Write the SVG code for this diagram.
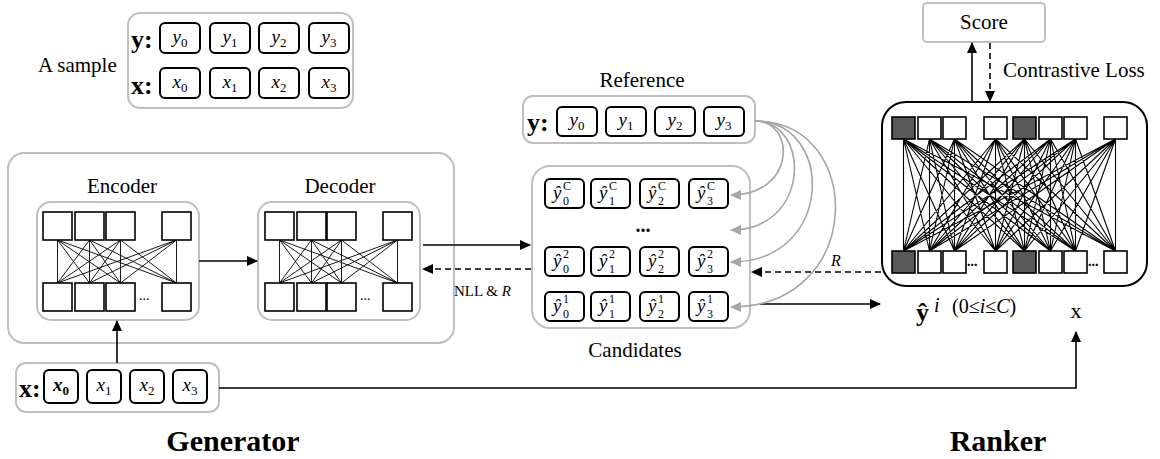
<svg xmlns="http://www.w3.org/2000/svg" width="1160" height="459" viewBox="0 0 1160 459">
<defs>
<marker id="ah" markerUnits="userSpaceOnUse" markerWidth="11" markerHeight="10" refX="10" refY="5" orient="auto"><path d="M0,0 L11,5 L0,10 z" fill="#000"/></marker>
<marker id="ahg" markerUnits="userSpaceOnUse" markerWidth="11" markerHeight="10" refX="10" refY="5" orient="auto"><path d="M0,0 L11,5 L0,10 z" fill="#a6a6a6"/></marker>
</defs>
<style>
text{font-family:"Liberation Serif","Times New Roman","DejaVu Serif",serif;fill:#000}
.lbl{font-size:21px}
.big{font-size:30px;font-weight:bold}
.bl{font-size:26px;font-weight:bold}
.m{font-size:19px;font-style:italic}
.sub{font-size:13px;font-style:normal}
.ss{font-size:12px;font-style:normal}
.grp{fill:#fff;stroke:#bfbfbf;stroke-width:2}
.tok{fill:#fff;stroke:#000;stroke-width:2}
.sq{fill:#fff;stroke:#000;stroke-width:1.6}
.dk{fill:#595959;stroke:#000;stroke-width:1.6}
.ln{stroke:#000;stroke-width:0.9;fill:none}
.lnr{stroke:#000;stroke-width:1.1;fill:none}
.ar{stroke:#000;stroke-width:1.6;fill:none}
.da{stroke:#000;stroke-width:1.6;fill:none;stroke-dasharray:6,4}
.ga{stroke:#a6a6a6;stroke-width:1.6;fill:none}
</style>

<g id="sample">
<text x="38" y="72" class="lbl">A sample</text>
<rect x="128" y="13" width="225" height="95" rx="12" class="grp"/>
<text x="131" y="48" class="bl">y:</text>
<text x="131" y="94" class="bl">x:</text>
<rect x="160" y="23" width="40" height="30" rx="5" class="tok"/>
<rect x="210" y="23" width="40" height="30" rx="5" class="tok"/>
<rect x="259" y="23" width="40" height="30" rx="5" class="tok"/>
<rect x="309" y="23" width="40" height="30" rx="5" class="tok"/>
<text x="180" y="43" class="m" text-anchor="middle">y<tspan class="sub" dy="4">0</tspan></text>
<text x="230" y="43" class="m" text-anchor="middle">y<tspan class="sub" dy="4">1</tspan></text>
<text x="279" y="43" class="m" text-anchor="middle">y<tspan class="sub" dy="4">2</tspan></text>
<text x="329" y="43" class="m" text-anchor="middle">y<tspan class="sub" dy="4">3</tspan></text>
<rect x="160" y="68" width="40" height="30" rx="5" class="tok"/>
<rect x="210" y="68" width="40" height="30" rx="5" class="tok"/>
<rect x="259" y="68" width="40" height="30" rx="5" class="tok"/>
<rect x="309" y="68" width="40" height="30" rx="5" class="tok"/>
<text x="180" y="88" class="m" text-anchor="middle">x<tspan class="sub" dy="4">0</tspan></text>
<text x="230" y="88" class="m" text-anchor="middle">x<tspan class="sub" dy="4">1</tspan></text>
<text x="279" y="88" class="m" text-anchor="middle">x<tspan class="sub" dy="4">2</tspan></text>
<text x="329" y="88" class="m" text-anchor="middle">x<tspan class="sub" dy="4">3</tspan></text>
</g>

<g id="generator">
<rect x="8" y="153" width="446" height="190" rx="16" class="grp"/>
<text x="233" y="451" class="big" text-anchor="middle">Generator</text>
</g>

<g id="encoder">
<text x="122" y="193" class="lbl" text-anchor="middle">Encoder</text>
<rect x="37" y="202" width="162" height="118" rx="14" class="grp"/>
<g class="ln">
<path d="M57.5,240 L57.5,283 M57.5,240 L89.5,283 M57.5,240 L120.5,283 M57.5,240 L176.5,283
M89.5,240 L57.5,283 M89.5,240 L89.5,283 M89.5,240 L120.5,283 M89.5,240 L176.5,283
M120.5,240 L57.5,283 M120.5,240 L89.5,283 M120.5,240 L120.5,283 M120.5,240 L176.5,283
M176.5,240 L57.5,283 M176.5,240 L89.5,283 M176.5,240 L120.5,283 M176.5,240 L176.5,283"/>
</g>
<rect x="43" y="212" width="29" height="28" class="sq"/>
<rect x="75" y="212" width="29" height="28" class="sq"/>
<rect x="106" y="212" width="29" height="28" class="sq"/>
<rect x="162" y="212" width="29" height="28" class="sq"/>
<rect x="43" y="283" width="29" height="28" class="sq"/>
<rect x="75" y="283" width="29" height="28" class="sq"/>
<rect x="106" y="283" width="29" height="28" class="sq"/>
<rect x="162" y="283" width="29" height="28" class="sq"/>
<text x="139" y="300" style="font-size:14px">...</text>
</g>

<g id="decoder">
<text x="340" y="193" class="lbl" text-anchor="middle">Decoder</text>
<rect x="258" y="202" width="162" height="118" rx="14" class="grp"/>
<g class="ln">
<path d="M279.5,240 L279.5,283 M279.5,240 L311.5,283 M279.5,240 L341.5,283 M279.5,240 L397.5,283
M311.5,240 L279.5,283 M311.5,240 L311.5,283 M311.5,240 L341.5,283 M311.5,240 L397.5,283
M341.5,240 L279.5,283 M341.5,240 L311.5,283 M341.5,240 L341.5,283 M341.5,240 L397.5,283
M397.5,240 L279.5,283 M397.5,240 L311.5,283 M397.5,240 L341.5,283 M397.5,240 L397.5,283"/>
</g>
<rect x="265" y="212" width="29" height="28" class="sq"/>
<rect x="297" y="212" width="29" height="28" class="sq"/>
<rect x="327" y="212" width="29" height="28" class="sq"/>
<rect x="383" y="212" width="29" height="28" class="sq"/>
<rect x="265" y="283" width="29" height="28" class="sq"/>
<rect x="297" y="283" width="29" height="28" class="sq"/>
<rect x="327" y="283" width="29" height="28" class="sq"/>
<rect x="383" y="283" width="29" height="28" class="sq"/>
<text x="360" y="300" style="font-size:14px">...</text>
</g>

<g id="input-x">
<rect x="16" y="363" width="203" height="49" rx="10" class="grp"/>
<text x="19" y="397" class="bl">x:</text>
<rect x="44" y="370" width="34" height="33" rx="5" class="tok"/>
<rect x="87" y="370" width="34" height="33" rx="5" class="tok"/>
<rect x="130" y="370" width="34" height="33" rx="5" class="tok"/>
<rect x="173" y="370" width="34" height="33" rx="5" class="tok"/>
<text x="61" y="391" class="m" text-anchor="middle" font-weight="bold">x<tspan class="sub" dy="4">0</tspan></text>
<text x="104" y="391" class="m" text-anchor="middle">x<tspan class="sub" dy="4">1</tspan></text>
<text x="147" y="391" class="m" text-anchor="middle">x<tspan class="sub" dy="4">2</tspan></text>
<text x="190" y="391" class="m" text-anchor="middle">x<tspan class="sub" dy="4">3</tspan></text>
</g>

<g id="reference">
<text x="642" y="87" class="lbl" text-anchor="middle">Reference</text>
<rect x="523" y="96" width="232" height="47" rx="10" class="grp"/>
<text x="527" y="131" class="bl">y:</text>
<rect x="557" y="107" width="40" height="29" rx="5" class="tok"/>
<rect x="606" y="107" width="40" height="29" rx="5" class="tok"/>
<rect x="655" y="107" width="40" height="29" rx="5" class="tok"/>
<rect x="704" y="107" width="40" height="29" rx="5" class="tok"/>
<text x="577" y="126" class="m" text-anchor="middle">y<tspan class="sub" dy="4">0</tspan></text>
<text x="626" y="126" class="m" text-anchor="middle">y<tspan class="sub" dy="4">1</tspan></text>
<text x="675" y="126" class="m" text-anchor="middle">y<tspan class="sub" dy="4">2</tspan></text>
<text x="724" y="126" class="m" text-anchor="middle">y<tspan class="sub" dy="4">3</tspan></text>
</g>

<g id="candidates">
<rect x="532" y="166" width="218" height="162" rx="18" class="grp"/>
<text x="635" y="357" class="lbl" text-anchor="middle">Candidates</text>
<rect x="545" y="179" width="39" height="29" rx="5" class="tok"/>
<rect x="591" y="179" width="39" height="29" rx="5" class="tok"/>
<rect x="640" y="179" width="39" height="29" rx="5" class="tok"/>
<rect x="689" y="179" width="39" height="29" rx="5" class="tok"/>
<text x="643" y="232" style="font-size:20px;font-weight:bold" text-anchor="middle">...</text>
<rect x="545" y="247" width="39" height="29" rx="5" class="tok"/>
<rect x="591" y="247" width="39" height="29" rx="5" class="tok"/>
<rect x="640" y="247" width="39" height="29" rx="5" class="tok"/>
<rect x="689" y="247" width="39" height="29" rx="5" class="tok"/>
<rect x="545" y="292" width="39" height="29" rx="5" class="tok"/>
<rect x="591" y="292" width="39" height="29" rx="5" class="tok"/>
<rect x="640" y="292" width="39" height="29" rx="5" class="tok"/>
<rect x="689" y="292" width="39" height="29" rx="5" class="tok"/>
<g class="m">
<text x="553" y="199">ŷ<tspan class="ss" font-style="italic" x="563" y="190">C</tspan><tspan class="ss" x="563" y="205">0</tspan></text>
<text x="599" y="199">ŷ<tspan class="ss" font-style="italic" x="609" y="190">C</tspan><tspan class="ss" x="609" y="205">1</tspan></text>
<text x="648" y="199">ŷ<tspan class="ss" font-style="italic" x="658" y="190">C</tspan><tspan class="ss" x="658" y="205">2</tspan></text>
<text x="697" y="199">ŷ<tspan class="ss" font-style="italic" x="707" y="190">C</tspan><tspan class="ss" x="707" y="205">3</tspan></text>
<text x="553" y="267">ŷ<tspan class="ss" x="563" y="258">2</tspan><tspan class="ss" x="563" y="273">0</tspan></text>
<text x="599" y="267">ŷ<tspan class="ss" x="609" y="258">2</tspan><tspan class="ss" x="609" y="273">1</tspan></text>
<text x="648" y="267">ŷ<tspan class="ss" x="658" y="258">2</tspan><tspan class="ss" x="658" y="273">2</tspan></text>
<text x="697" y="267">ŷ<tspan class="ss" x="707" y="258">2</tspan><tspan class="ss" x="707" y="273">3</tspan></text>
<text x="553" y="312">ŷ<tspan class="ss" x="563" y="303">1</tspan><tspan class="ss" x="563" y="318">0</tspan></text>
<text x="599" y="312">ŷ<tspan class="ss" x="609" y="303">1</tspan><tspan class="ss" x="609" y="318">1</tspan></text>
<text x="648" y="312">ŷ<tspan class="ss" x="658" y="303">1</tspan><tspan class="ss" x="658" y="318">2</tspan></text>
<text x="697" y="312">ŷ<tspan class="ss" x="707" y="303">1</tspan><tspan class="ss" x="707" y="318">3</tspan></text>
</g>
</g>

<g id="score">
<rect x="923" y="3" width="122" height="39" rx="4" class="grp"/>
<text x="984" y="29" class="lbl" text-anchor="middle">Score</text>
</g>

<g id="ranker">
<rect x="882" y="102" width="265" height="184" rx="24" fill="#fff" stroke="#000" stroke-width="2"/>
<g class="lnr">
<path d="M903.5,139 L903.5,251 M903.5,139 L929.5,251 M903.5,139 L954.5,251 M903.5,139 L995.5,251 M903.5,139 L1024.5,251 M903.5,139 L1050.5,251 M903.5,139 L1075.5,251 M903.5,139 L1115.5,251
M929.5,139 L903.5,251 M929.5,139 L929.5,251 M929.5,139 L954.5,251 M929.5,139 L995.5,251 M929.5,139 L1024.5,251 M929.5,139 L1050.5,251 M929.5,139 L1075.5,251 M929.5,139 L1115.5,251
M954.5,139 L903.5,251 M954.5,139 L929.5,251 M954.5,139 L954.5,251 M954.5,139 L995.5,251 M954.5,139 L1024.5,251 M954.5,139 L1050.5,251 M954.5,139 L1075.5,251 M954.5,139 L1115.5,251
M995.5,139 L903.5,251 M995.5,139 L929.5,251 M995.5,139 L954.5,251 M995.5,139 L995.5,251 M995.5,139 L1024.5,251 M995.5,139 L1050.5,251 M995.5,139 L1075.5,251 M995.5,139 L1115.5,251
M1024.5,139 L903.5,251 M1024.5,139 L929.5,251 M1024.5,139 L954.5,251 M1024.5,139 L995.5,251 M1024.5,139 L1024.5,251 M1024.5,139 L1050.5,251 M1024.5,139 L1075.5,251 M1024.5,139 L1115.5,251
M1050.5,139 L903.5,251 M1050.5,139 L929.5,251 M1050.5,139 L954.5,251 M1050.5,139 L995.5,251 M1050.5,139 L1024.5,251 M1050.5,139 L1050.5,251 M1050.5,139 L1075.5,251 M1050.5,139 L1115.5,251
M1075.5,139 L903.5,251 M1075.5,139 L929.5,251 M1075.5,139 L954.5,251 M1075.5,139 L995.5,251 M1075.5,139 L1024.5,251 M1075.5,139 L1050.5,251 M1075.5,139 L1075.5,251 M1075.5,139 L1115.5,251
M1115.5,139 L903.5,251 M1115.5,139 L929.5,251 M1115.5,139 L954.5,251 M1115.5,139 L995.5,251 M1115.5,139 L1024.5,251 M1115.5,139 L1050.5,251 M1115.5,139 L1075.5,251 M1115.5,139 L1115.5,251"/>
</g>
<rect x="892" y="117" width="23" height="22" class="dk"/>
<rect x="918" y="117" width="23" height="22" class="sq"/>
<rect x="943" y="117" width="23" height="22" class="sq"/>
<rect x="984" y="117" width="23" height="22" class="sq"/>
<rect x="1013" y="117" width="23" height="22" class="dk"/>
<rect x="1039" y="117" width="23" height="22" class="sq"/>
<rect x="1064" y="117" width="23" height="22" class="sq"/>
<rect x="1104" y="117" width="23" height="22" class="sq"/>
<rect x="892" y="251" width="23" height="22" class="dk"/>
<rect x="918" y="251" width="23" height="22" class="sq"/>
<rect x="943" y="251" width="23" height="22" class="sq"/>
<rect x="984" y="251" width="23" height="22" class="sq"/>
<rect x="1013" y="251" width="23" height="22" class="dk"/>
<rect x="1039" y="251" width="23" height="22" class="sq"/>
<rect x="1064" y="251" width="23" height="22" class="sq"/>
<rect x="1104" y="251" width="23" height="22" class="sq"/>
<text x="967" y="266" style="font-size:14px;font-weight:bold">...</text>
<text x="1088" y="266" style="font-size:14px;font-weight:bold">...</text>
<text x="998" y="451" class="big" text-anchor="middle">Ranker</text>
</g>

<g id="ranker-inputs">
<text x="916" y="321" style="font-size:26px;font-weight:bold">ŷ<tspan x="934" y="312" style="font-size:20px;font-weight:normal;font-style:italic">i</tspan><tspan x="952" y="313" style="font-size:20px;font-weight:normal">(0≤<tspan font-style="italic">i</tspan>≤<tspan font-style="italic">C</tspan>)</tspan></text>
<text x="1076" y="318" style="font-size:22px" text-anchor="middle">x</text>
</g>

<g id="connectors">
<path d="M199,261 L257,261" class="ar" marker-end="url(#ah)"/>
<path d="M423,245 L530,245" class="ar" marker-end="url(#ah)"/>
<path d="M531,269 L423,269" class="da" marker-end="url(#ah)"/>
<text x="454" y="296" style="font-size:15px">NLL &amp; <tspan font-style="italic">R</tspan></text>
<path d="M117,363 L117,321" class="ar" marker-end="url(#ah)"/>
<path d="M219,388 L1076,388 L1076,332" class="ar" marker-end="url(#ah)"/>
<path d="M972,102 L972,43" class="ar" marker-end="url(#ah)"/>
<path d="M990,43 L990,101" class="da" marker-end="url(#ah)"/>
<text x="1003" y="77" class="lbl">Contrastive Loss</text>
<path d="M881,272 L752,272" class="da" marker-end="url(#ah)"/>
<text x="831" y="266" style="font-size:16px;font-style:italic">R</text>
<path d="M760,304 L880,304" class="ar" marker-end="url(#ah)"/>
<path d="M755,121 C796,121 796,195 731,195" class="ga" marker-end="url(#ahg)"/>
<path d="M755,121 C811,121 811,230 731,230" class="ga" marker-end="url(#ahg)"/>
<path d="M755,121 C835,121 835,262 731,262" class="ga" marker-end="url(#ahg)"/>
<path d="M755,121 C866,121 866,307 731,307" class="ga" marker-end="url(#ahg)"/>
</g>
</svg>
